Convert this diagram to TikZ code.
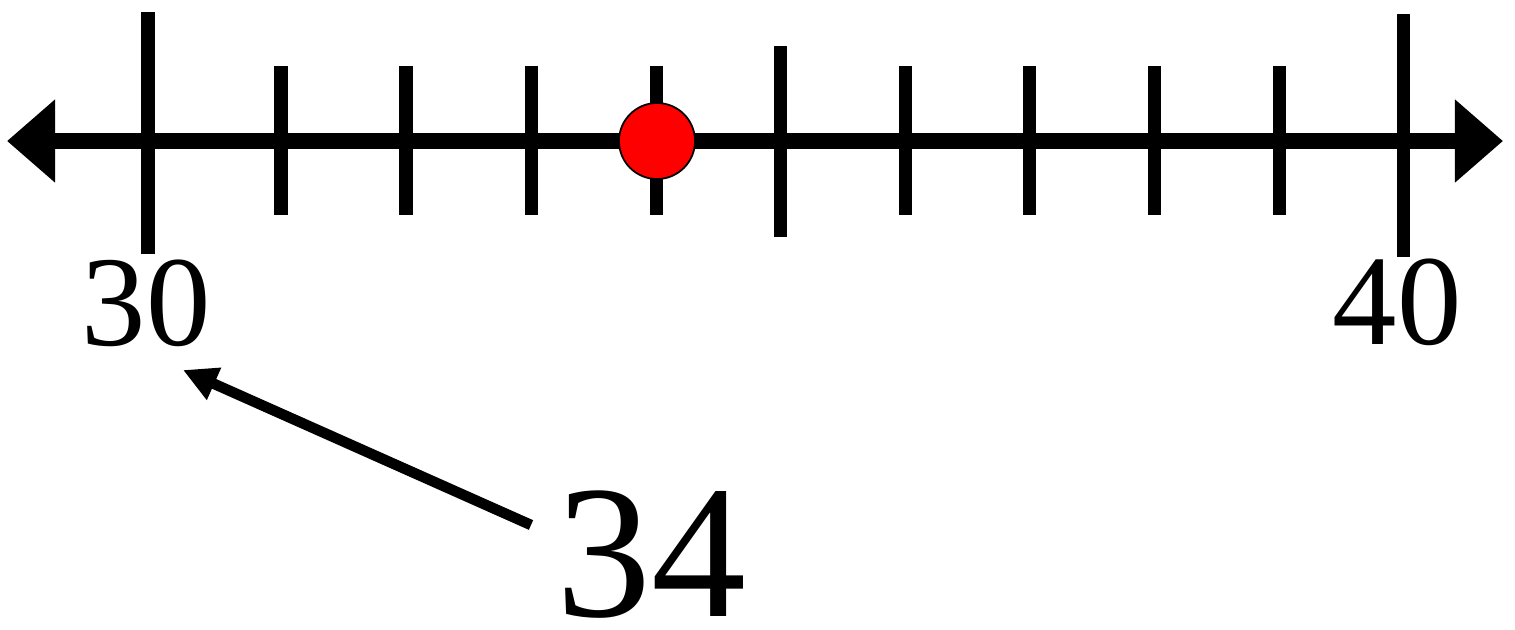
\documentclass[tikz,border=0pt]{standalone}
\usepackage{fontspec}
\setmainfont{Liberation Serif}
\usetikzlibrary{arrows.meta}

\tikzset{
  tickmark/.style={line width=3.7pt},
  numlabel/.style={inner sep=0pt,font=\fontsize{36.6pt}{40pt}\selectfont},
  biglabel/.style={inner sep=0pt,font=\fontsize{54pt}{60pt}\selectfont},
}

\begin{document}
\begin{tikzpicture}[x=0.01cm,y=-0.01cm]
\useasboundingbox (0,0) rectangle (1515,629);
\foreach \x/\ya/\yb in {148/12/254,281/66/215,406/66/215,531/66/215,656/66/215,780/46/237,905/66/215,1029/66/215,1154/66/215,1279/66/215,1403/14/257}
  \draw[tickmark] (\x,\ya) -- (\x,\yb);
\coordinate (lefttip) at (7,141);
\coordinate (righttip) at (1503,141);
\draw[line width=4.5pt,{Triangle[length=4.8mm,width=8mm]}-{Triangle[length=4.8mm,width=8mm]}] (lefttip) -- (righttip);
\node (dot) [circle,fill=red,draw=black,line width=0.5pt,inner sep=0pt,minimum size=0.76cm] at (657,141) {};
\node (l30) [numlabel] at (146,303) {30};
\node (l40) [numlabel] at (1397,302) {40};
\node (n34) [biglabel] at (651,555) {34};
\coordinate (tail) at (531,525);
\coordinate (tip) at (183,370);
\draw[line width=3pt,-{Triangle[length=3.4mm,width=3.3mm]}] (tail) -- (tip);
\end{tikzpicture}
\end{document}
